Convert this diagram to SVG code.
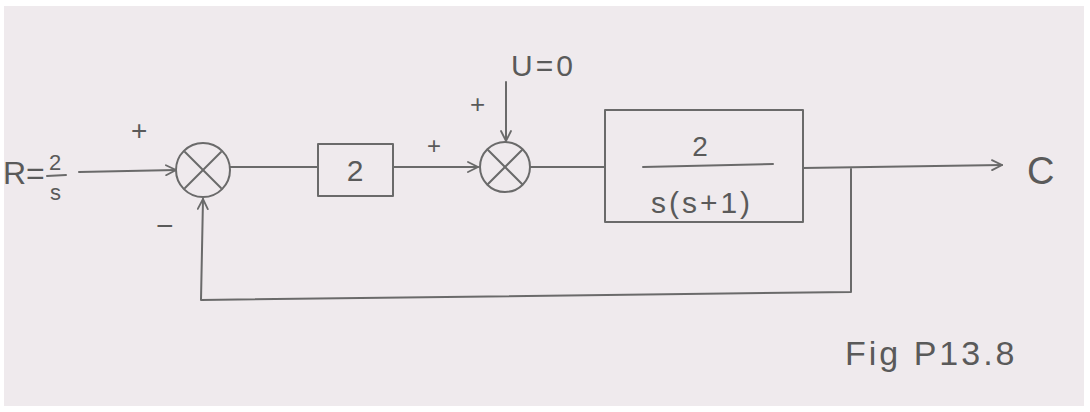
<svg xmlns="http://www.w3.org/2000/svg" width="1090" height="412" viewBox="0 0 1090 412">
<defs>
<style>
.ln{fill:none;stroke:#6a6a6a;stroke-width:2;stroke-linecap:round;stroke-linejoin:round}
.tx{font-family:"Liberation Sans",Arial,sans-serif;fill:#5a5a5a;font-weight:normal}
</style>
<marker id="ah" viewBox="0 0 12 12" refX="11" refY="6" markerWidth="12" markerHeight="12" markerUnits="userSpaceOnUse" orient="auto">
<path d="M1,1 L11,6 L1,11" fill="none" stroke="#6a6a6a" stroke-width="1.8" stroke-linecap="round"/>
</marker>
</defs>
<rect x="0" y="0" width="1090" height="412" fill="#fff"/>
<rect x="4" y="6" width="1080" height="400" fill="#efeaed"/>

<g id="connectors">
<path class="ln" d="M79,172 L176,170" marker-end="url(#ah)"/>
<path class="ln" d="M230,167 L318,167"/>
<path class="ln" d="M393,167 L478,167" marker-end="url(#ah)"/>
<path class="ln" d="M506,82 L506,141" marker-end="url(#ah)"/>
<path class="ln" d="M530,167 L605,167"/>
<path class="ln" d="M803,168 L1002,165" marker-end="url(#ah)"/>
<path class="ln" d="M851,169 L851,292 L201,300 L203,199" marker-end="url(#ah)"/>
</g>

<g id="input">
<text class="tx" x="3" y="184" font-size="32" font-weight="300">R=</text>
<text class="tx" x="49" y="170" font-size="22">2</text>
<line class="ln" x1="47" y1="176" x2="66" y2="175" stroke-width="1.6"/>
<text class="tx" x="50" y="200" font-size="22">s</text>
</g>

<g id="sum1">
<circle class="ln" cx="203" cy="170" r="27"/>
<line class="ln" x1="185" y1="152" x2="221" y2="188"/>
<line class="ln" x1="221" y1="152" x2="185" y2="188"/>
<text class="tx" x="131" y="140" font-size="28">+</text>
<text class="tx" x="156" y="236" font-size="30">−</text>
</g>

<g id="gain2">
<rect class="ln" x="318" y="144" width="75" height="52"/>
<text class="tx" x="355" y="181" font-size="30" text-anchor="middle">2</text>
</g>

<g id="sum2">
<circle class="ln" cx="505" cy="167" r="25"/>
<line class="ln" x1="488" y1="150" x2="522" y2="184"/>
<line class="ln" x1="522" y1="150" x2="488" y2="184"/>
<text class="tx" x="427" y="154" font-size="24">+</text>
<text class="tx" x="470" y="113" font-size="26">+</text>
<text class="tx" x="511" y="76" font-size="30" letter-spacing="3">U=0</text>
</g>

<g id="plant">
<rect class="ln" x="605" y="110" width="198" height="112"/>
<text class="tx" x="700" y="156" font-size="28" text-anchor="middle">2</text>
<line class="ln" x1="643" y1="167" x2="773" y2="164"/>
<text class="tx" x="702" y="213" font-size="30" text-anchor="middle" letter-spacing="3">s(s+1)</text>
</g>

<g id="output">
<text class="tx" x="1027" y="184" font-size="38" font-weight="300">C</text>
</g>

<text class="tx" x="845" y="365" font-size="34" letter-spacing="3">Fig P13.8</text>
</svg>
